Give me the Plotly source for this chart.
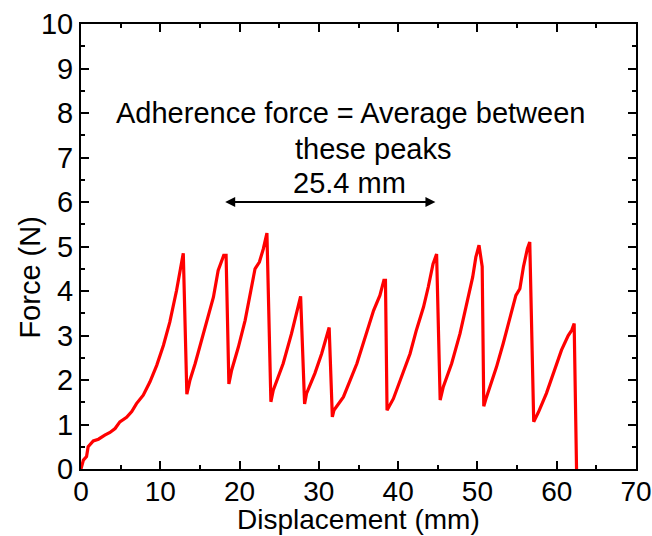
import plotly.graph_objects as go

# Displacement (mm) and Force (N)
displacement = [0.0, 0.3, 0.7, 0.9, 1.55, 2.2, 3.0, 3.65, 4.3, 4.9, 5.75, 6.4, 7.0, 7.85, 8.7, 9.55,
                10.4, 11.2, 12.05, 12.9, 13.35, 13.75, 14.4, 15.2, 16.05, 16.7, 17.3, 17.75, 18.0, 18.3,
                18.65, 19.0, 19.85, 20.7, 21.3, 21.95, 22.5, 23.0, 23.45, 23.95, 24.25, 25.5, 26.55,
                27.3, 27.7, 28.2, 28.45, 29.5, 30.35, 31.3, 31.7, 31.9, 33.1, 34.8, 36.0, 36.9, 37.7,
                38.2, 38.4, 38.6, 39.4, 40.45, 41.5, 42.3, 43.2, 43.8, 44.4, 44.85, 45.3, 45.7, 46.75,
                47.8, 48.65, 49.4, 49.8, 50.2, 50.6, 50.8, 51.15, 51.6, 52.4, 53.25, 54.1, 54.85, 55.35,
                55.8, 56.3, 56.6, 57.1, 57.7, 58.7, 59.55, 60.6, 61.45, 61.9, 62.2, 62.5]
force = [0.0, 0.2, 0.28, 0.5, 0.63, 0.67, 0.76, 0.82, 0.91, 1.06, 1.16, 1.29, 1.47, 1.66, 1.96, 2.33,
         2.78, 3.30, 4.01, 4.85, 1.68, 2.0, 2.37, 2.89, 3.41, 3.86, 4.46, 4.65, 4.80, 4.80,
         1.91, 2.22, 2.74, 3.34, 3.86, 4.50, 4.65, 4.95, 5.30, 1.51, 1.77, 2.37, 3.04,
         3.56, 3.88, 1.46, 1.70, 2.15, 2.59, 3.18, 1.17, 1.32, 1.62, 2.37, 3.04, 3.56, 3.90,
         4.24, 4.24, 1.32, 1.58, 2.07, 2.59, 3.12, 3.64, 4.09, 4.61, 4.83, 1.55, 1.85, 2.37,
         3.04, 3.72, 4.31, 4.76, 5.03, 4.55, 1.41, 1.62, 1.85, 2.29, 2.82, 3.41, 3.90, 4.05,
         4.54, 4.95, 5.10, 1.06, 1.28, 1.70, 2.15, 2.67, 3.0, 3.12, 3.27, 0.0]

x_ticks = [0, 10, 20, 30, 40, 50, 60, 70]
y_ticks = [0, 1, 2, 3, 4, 5, 6, 7, 8, 9, 10]
arrow_range = [18.0, 44.7]
arrow_level = 6.0

FONT = "Liberation Sans, Arial, sans-serif"
FS = 29
FSX = 28

fig = go.Figure()
fig.add_trace(go.Scatter(x=displacement, y=force, mode="lines",
                         line=dict(color="#ff0000", width=3.2), showlegend=False))

axis_common = dict(showline=True, linecolor="black", linewidth=2, mirror="ticks",
                   ticks="inside", ticklen=8, tickwidth=1.5, tickcolor="black",
                   showgrid=False, zeroline=False, automargin=False,
                   ticklabeloverflow="allow")

fig.update_xaxes(range=[0, 70], tickvals=x_ticks, ticklabelstandoff=-4,
                 tickfont=dict(family=FONT, size=FSX, color="black"),
                 minor=dict(dtick=5, ticks="inside", ticklen=4, tickwidth=1.5, tickcolor="black"),
                 **axis_common)
fig.update_yaxes(range=[0, 10], tickvals=y_ticks,
                 tickfont=dict(family=FONT, size=FS, color="black"),
                 minor=dict(dtick=0.5, ticks="inside", ticklen=4, tickwidth=1.5, tickcolor="black"),
                 **axis_common)

# axis titles placed as paper annotations to match the reference positions
fig.add_annotation(x=0.5, y=-0.1146, xref="paper", yref="paper", text="Displacement (mm)",
                   showarrow=False, xanchor="center", yanchor="middle", borderpad=0,
                   font=dict(family=FONT, size=FSX, color="black"))
fig.add_annotation(x=-0.092, y=0.43, xref="paper", yref="paper", text="Force (N)",
                   showarrow=False, textangle=-90, xanchor="center", yanchor="middle",
                   font=dict(family=FONT, size=FS, color="black"))

fig.add_annotation(x=34.0, y=8.0, text="Adherence force = Average between", showarrow=False,
                   font=dict(family=FONT, size=FS, color="black"))
fig.add_annotation(x=36.8, y=7.2, text="these peaks", showarrow=False,
                   font=dict(family=FONT, size=FS, color="black"))
fig.add_annotation(x=33.9, y=6.42, text="25.4 mm", showarrow=False,
                   font=dict(family=FONT, size=FS, color="black"))
fig.add_annotation(x=arrow_range[1], y=arrow_level, ax=arrow_range[0], ay=arrow_level,
                   xref="x", yref="y", axref="x", ayref="y", text="",
                   showarrow=True, arrowside="end+start", arrowhead=2, arrowsize=1,
                   arrowwidth=2, arrowcolor="black")

fig.update_layout(width=652, height=536, margin=dict(l=81, r=16, t=24, b=67, autoexpand=False),
                  paper_bgcolor="white", plot_bgcolor="white",
                  font=dict(family=FONT, color="black"))

fig.write_html("out.html")
